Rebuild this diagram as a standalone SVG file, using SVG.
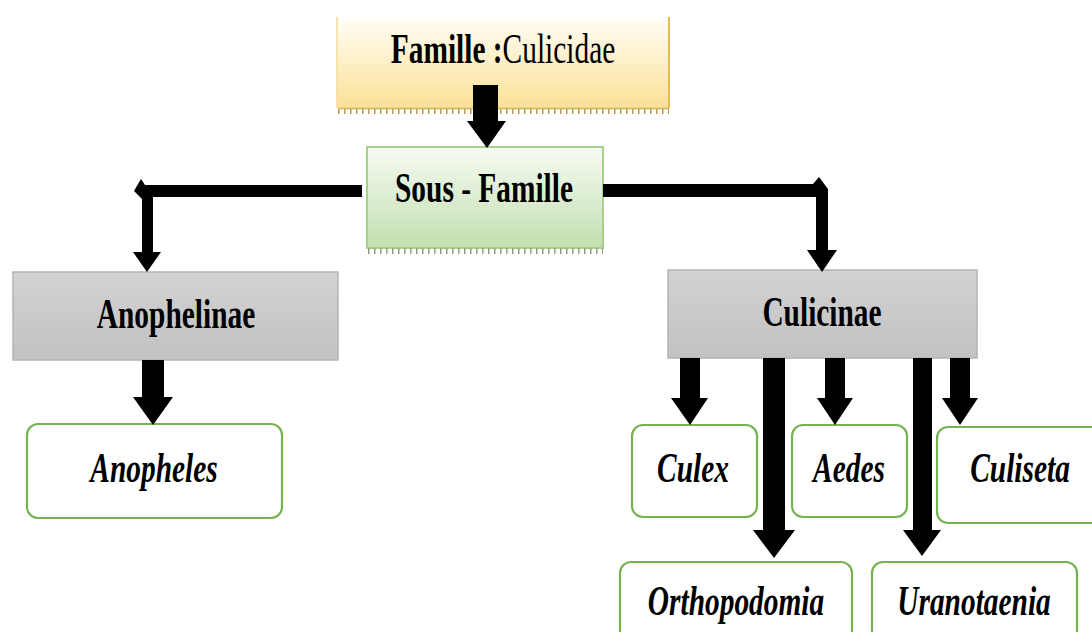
<svg xmlns="http://www.w3.org/2000/svg" width="1092" height="632" viewBox="0 0 1092 632">
<defs>
<linearGradient id="gY" x1="0" y1="0" x2="0" y2="1"><stop offset="0" stop-color="#fffdf6"/><stop offset="1" stop-color="#fbe197"/></linearGradient>
<linearGradient id="gG" x1="0" y1="0" x2="0" y2="1"><stop offset="0" stop-color="#f6fbf2"/><stop offset="1" stop-color="#c3dfb0"/></linearGradient>
<linearGradient id="gR" x1="0" y1="0" x2="0" y2="1"><stop offset="0" stop-color="#d2d2d2"/><stop offset="1" stop-color="#c2c2c2"/></linearGradient>
</defs>
<style>
.t{font-family:"Liberation Serif","Times New Roman",serif;font-size:42px;font-weight:bold;fill:#000;text-anchor:middle}
.i{font-style:italic}
.n{font-weight:normal}
.leaf{fill:#fff;stroke:#77b251;stroke-width:2.2}
.grey{fill:url(#gR);stroke:#b4b4b4;stroke-width:1.5}
.ar{fill:#000}
.hatch{fill:none;stroke-width:6;stroke-dasharray:1.5 4.5}
</style>
<rect width="1092" height="632" fill="#fff"/>

<g id="famille">
<rect x="337" y="17" width="332" height="91" fill="url(#gY)"/>
<line x1="337" y1="17" x2="337" y2="108" stroke="#f3dc9a" stroke-width="1.5"/>
<line x1="669" y1="17" x2="669" y2="108" stroke="#e2bd52" stroke-width="2"/>
<line x1="338" y1="111" x2="669" y2="111" class="hatch" stroke="#b89b54"/>
<line x1="338" y1="108.5" x2="669" y2="108.5" stroke="#d6b45a" stroke-width="1.5"/>
<text class="t" transform="translate(503,63) scale(0.7,1)">Famille :<tspan class="n">Culicidae</tspan></text>
</g>

<g id="sous-famille">
<rect x="367" y="147" width="236" height="101" fill="url(#gG)" stroke="#a8d08a" stroke-width="2"/>
<line x1="368" y1="251" x2="603" y2="251" class="hatch" stroke="#8d9e80"/>
<text class="t" transform="translate(484,202) scale(0.7,1)">Sous - Famille</text>
</g>

<g id="anophelinae">
<rect x="13" y="272" width="325" height="88" class="grey"/>
<text class="t" transform="translate(176,328) scale(0.7,1)">Anophelinae</text>
</g>

<g id="culicinae">
<rect x="668" y="270" width="309" height="88" class="grey"/>
<text class="t" transform="translate(822,326) scale(0.7,1)">Culicinae</text>
</g>

<g id="anopheles">
<rect x="27" y="424" width="255" height="94" rx="11" class="leaf"/>
<text class="t i" transform="translate(154,482) scale(0.7,1)">Anopheles</text>
</g>

<g id="culex">
<rect x="632" y="425" width="125" height="92" rx="11" class="leaf"/>
<text class="t i" transform="translate(693,482) scale(0.7,1)">Culex</text>
</g>

<g id="aedes">
<rect x="792" y="425" width="115" height="92" rx="11" class="leaf"/>
<text class="t i" transform="translate(849,482) scale(0.7,1)">Aedes</text>
</g>

<g id="culiseta">
<rect x="937" y="427" width="170" height="96" rx="11" class="leaf"/>
<text class="t i" transform="translate(1020,482) scale(0.7,1)">Culiseta</text>
</g>

<g id="orthopodomia">
<rect x="620" y="562" width="232" height="90" rx="11" class="leaf"/>
<text class="t i" transform="translate(736,615) scale(0.7,1)">Orthopodomia</text>
</g>

<g id="uranotaenia">
<rect x="872" y="562" width="205" height="90" rx="11" class="leaf"/>
<text class="t i" transform="translate(974,615) scale(0.7,1)">Uranotaenia</text>
</g>

<g id="connectors">
<!-- Famille -> Sous-Famille -->
<polygon class="ar" points="473,85 498,85 498,121 506,121 487,148 467,121 473,121"/>
<!-- Sous-Famille -> Anophelinae (elbow) -->
<polygon class="ar" points="362,185 145,185 141,179 134,191 142,199 142,252 133,252 147,272 161,252 153,252 153,197 362,197"/>
<!-- Sous-Famille -> Culicinae (elbow) -->
<polygon class="ar" points="603,184 813,184 819,177 828,189 828,250 837,250 822,272 807,250 816,250 816,197 603,197"/>
<!-- Anophelinae -> Anopheles -->
<polygon class="ar" points="142,360 164,360 164,397 173,397 153,425 133,397 142,397"/>
<!-- Culicinae -> Culex -->
<polygon class="ar" points="680,358 700,358 700,398 708,398 690,425 671,398 680,398"/>
<!-- Culicinae -> Orthopodomia -->
<polygon class="ar" points="763,358 785,358 785,530 795,530 774,558 753,530 763,530"/>
<!-- Culicinae -> Aedes -->
<polygon class="ar" points="825,358 845,358 845,398 853,398 835,425 817,398 825,398"/>
<!-- Culicinae -> Uranotaenia -->
<polygon class="ar" points="913,358 932,358 932,530 941,530 922,556 903,530 913,530"/>
<!-- Culicinae -> Culiseta -->
<polygon class="ar" points="950,358 970,358 970,398 978,398 960,425 942,398 950,398"/>
</g>
</svg>
